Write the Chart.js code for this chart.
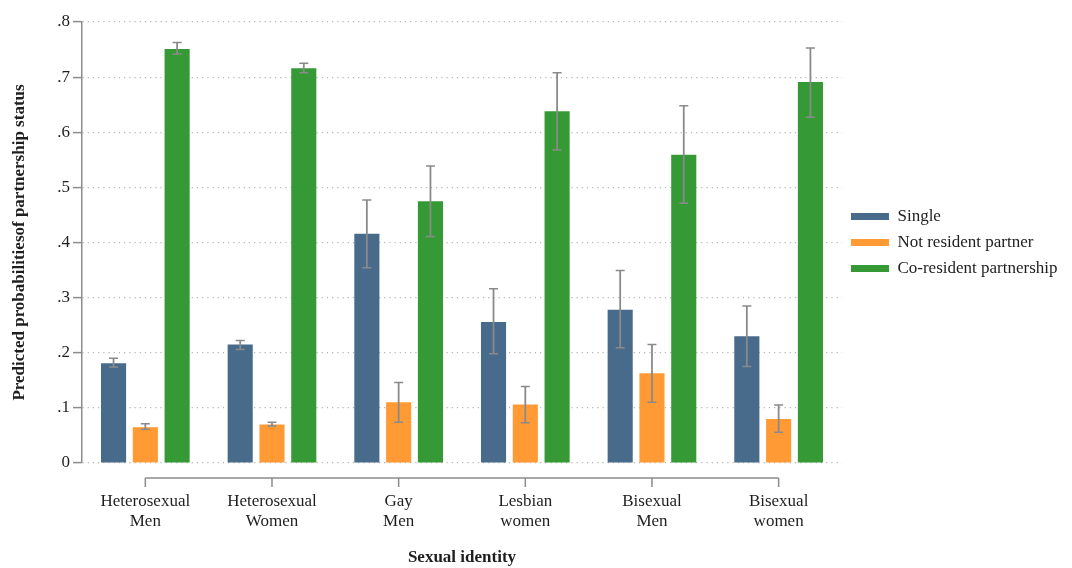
<!DOCTYPE html>
<html>
<head>
<meta charset="utf-8">
<style>
  html, body { margin: 0; padding: 0; background: #ffffff; }
  #wrap { width: 1072px; height: 568px; position: relative; }
</style>
<script src="https://cdn.jsdelivr.net/npm/chart.js@4.4.1/dist/chart.umd.min.js"></script>
</head>
<body>
<div id="wrap"><canvas id="chart" width="1072" height="568"></canvas></div>
<script>
// Sexual identity groups (two-line axis labels)
const categories = [
  ['Heterosexual', 'Men'],
  ['Heterosexual', 'Women'],
  ['Gay', 'Men'],
  ['Lesbian', 'women'],
  ['Bisexual', 'Men'],
  ['Bisexual', 'women']
];

// Predicted probabilities with 95% confidence bounds
const single      = [0.181, 0.215, 0.416, 0.256, 0.278, 0.230];
const singleLow   = [0.174, 0.206, 0.354, 0.198, 0.209, 0.175];
const singleHigh  = [0.190, 0.222, 0.477, 0.316, 0.349, 0.285];

const notResident     = [0.065, 0.070, 0.110, 0.106, 0.163, 0.080];
const notResidentLow  = [0.061, 0.067, 0.074, 0.073, 0.110, 0.056];
const notResidentHigh = [0.071, 0.074, 0.146, 0.139, 0.215, 0.105];

const coResident     = [0.751, 0.716, 0.475, 0.638, 0.559, 0.691];
const coResidentLow  = [0.742, 0.708, 0.411, 0.568, 0.471, 0.627];
const coResidentHigh = [0.763, 0.725, 0.539, 0.708, 0.648, 0.753];

const yTicks = [0, 0.1, 0.2, 0.3, 0.4, 0.5, 0.6, 0.7, 0.8];

const FONT = "'Liberation Serif', 'Times New Roman', serif";
const TEXT = '#1e1e1e';
const AXIS = '#8c8c8c';

Chart.defaults.font.family = FONT;
Chart.defaults.color = TEXT;

// Confidence-interval whiskers on every bar
const errorBars = {
  id: 'errorBars',
  afterDatasetsDraw(chart) {
    const ctx = chart.ctx;
    const y = chart.scales.y;
    ctx.save();
    ctx.strokeStyle = '#8a8a8a';
    chart.data.datasets.forEach((ds, i) => {
      const meta = chart.getDatasetMeta(i);
      meta.data.forEach((bar, j) => {
        const x = bar.x;
        const yl = y.getPixelForValue(ds.errLow[j]);
        const yh = y.getPixelForValue(ds.errHigh[j]);
        ctx.lineWidth = 1.8;
        ctx.beginPath();
        ctx.moveTo(x, yl);
        ctx.lineTo(x, yh);
        ctx.stroke();
        ctx.lineWidth = 1.5;
        ctx.beginPath();
        ctx.moveTo(x - 4.5, yl); ctx.lineTo(x + 4.5, yl);
        ctx.moveTo(x - 4.5, yh); ctx.lineTo(x + 4.5, yh);
        ctx.stroke();
      });
    });
    ctx.restore();
  }
};

// Detached category axis line with downward ticks, below the plot region
const categoryAxisLine = {
  id: 'categoryAxisLine',
  afterDraw(chart) {
    const ctx = chart.ctx;
    const xs = chart.scales.x;
    const yLine = chart.chartArea.bottom + 15;
    const first = xs.getPixelForValue(0);
    const last = xs.getPixelForValue(categories.length - 1);
    ctx.save();
    ctx.strokeStyle = AXIS;
    ctx.lineWidth = 1.5;
    ctx.beginPath();
    ctx.moveTo(first, yLine);
    ctx.lineTo(last, yLine);
    for (let i = 0; i < categories.length; i++) {
      const px = xs.getPixelForValue(i);
      ctx.moveTo(px, yLine);
      ctx.lineTo(px, yLine + 9);
    }
    ctx.stroke();
    ctx.restore();
  }
};

new Chart(document.getElementById('chart'), {
  type: 'bar',
  data: {
    labels: categories,
    datasets: [
      { label: 'Single', data: single, errLow: singleLow, errHigh: singleHigh,
        backgroundColor: '#486b8b', borderWidth: 0 },
      { label: 'Not resident partner', data: notResident, errLow: notResidentLow, errHigh: notResidentHigh,
        backgroundColor: '#ff9a35', borderWidth: 0 },
      { label: 'Co-resident partnership', data: coResident, errLow: coResidentLow, errHigh: coResidentHigh,
        backgroundColor: '#359a35', borderWidth: 0 }
    ]
  },
  options: {
    responsive: false,
    animation: false,
    devicePixelRatio: 1,
    layout: { padding: { top: 22, right: 4.5, bottom: 0, left: 0 } },
    datasets: { bar: { categoryPercentage: 0.753, barPercentage: 0.79 } },
    scales: {
      x: {
        grid: { display: false, drawTicks: false },
        border: { display: false },
        ticks: { font: { size: 17, lineHeight: 1.15 }, padding: 29, color: TEXT, maxRotation: 0, autoSkip: false },
        title: { display: true, text: 'Sexual identity', font: { size: 17, weight: 'bold' }, padding: { top: 0, bottom: 0 }, color: TEXT },
        afterFit(scale) { scale.height = 105; }
      },
      y: {
        min: 0, max: 0.8,
        afterBuildTicks(scale) { scale.ticks = yTicks.map(v => ({ value: v })); },
        ticks: {
          font: { size: 17 }, padding: 3, color: TEXT,
          callback(v) { return v === 0 ? '0' : v.toFixed(1).replace(/^0/, ''); }
        },
        grid: { color: '#b4b4b4', lineWidth: 1.2, drawTicks: true, tickLength: 9, tickColor: AXIS, tickWidth: 1.5 },
        border: { display: true, color: AXIS, width: 1.5, dash: [1.2, 4] },
        title: { display: true, text: 'Predicted probabilitiesof partnership status', font: { size: 17, weight: 'bold' }, padding: { top: 9, bottom: 0 }, color: TEXT },
        afterFit(scale) { scale.width = 82; }
      }
    },
    plugins: {
      legend: {
        position: 'right',
        fullSize: false,
        labels: { boxWidth: 38, boxHeight: 7, padding: 9, font: { size: 17 }, color: TEXT }
      },
      tooltip: { enabled: false }
    }
  },
  plugins: [errorBars, categoryAxisLine]
});
</script>
</body>
</html>
